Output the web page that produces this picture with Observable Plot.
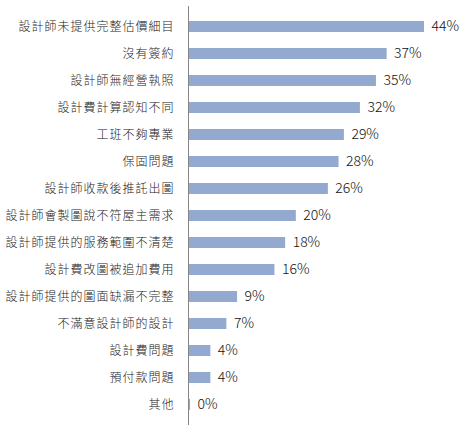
<!DOCTYPE html>
<html>
<head>
<meta charset="utf-8">
<script src="https://cdn.jsdelivr.net/npm/d3@7"></script>
<script src="https://cdn.jsdelivr.net/npm/@observablehq/plot@0.6"></script>
<style>
  html, body { margin: 0; padding: 0; background: #fff; }
  #chart svg { display: block; }
</style>
</head>
<body>
<div id="chart"></div>
<script>
const categories = [
  "設計師未提供完整估價細目",
  "沒有簽約",
  "設計師無經營執照",
  "設計費計算認知不同",
  "工班不夠專業",
  "保固問題",
  "設計師收款後推託出圖",
  "設計師會製圖說不符屋主需求",
  "設計師提供的服務範圍不清楚",
  "設計費改圖被追加費用",
  "設計師提供的圖面缺漏不完整",
  "不滿意設計師的設計",
  "設計費問題",
  "預付款問題",
  "其他"
];
const values = [44, 37, 35, 32, 29, 28, 26, 20, 18, 16, 9, 7, 4, 4, 0.2];
const labels = ["44%", "37%", "35%", "32%", "29%", "28%", "26%", "20%", "18%", "16%", "9%", "7%", "4%", "4%", "0%"];

const data = categories.map((c, i) => ({ category: c, value: values[i], label: labels[i] }));

const chart = Plot.plot({
  width: 466,
  height: 432,
  marginLeft: 188,
  marginRight: 0,
  marginTop: 6,
  marginBottom: 7,
  style: { fontFamily: "'Noto Sans CJK TC', 'Noto Sans', sans-serif", background: "#fff" },
  x: { domain: [0, 44], range: [189, 424], axis: null },
  y: { domain: categories, paddingInner: 0.58, paddingOuter: 0.29, label: null },
  marks: [
    Plot.barX(data, { y: "category", x: "value", fill: "#93a9cf" }),
    Plot.ruleX([0], { stroke: "#868686", strokeWidth: 1, dx: -1 }),
    Plot.text(data, { y: "category", x: "value", text: "label", textAnchor: "start", dx: 7, fontSize: 14, fontWeight: 300, fill: "#111" }),
    Plot.axisY({ tickSize: 0, tickPadding: 14, fontSize: 12, fontWeight: 300, fill: "#222", label: null })
  ]
});
chart.querySelectorAll("[aria-label='y-axis tick label'] text").forEach(t => t.setAttribute("letter-spacing", "1"));
document.getElementById("chart").appendChild(chart);
</script>
</body>
</html>
